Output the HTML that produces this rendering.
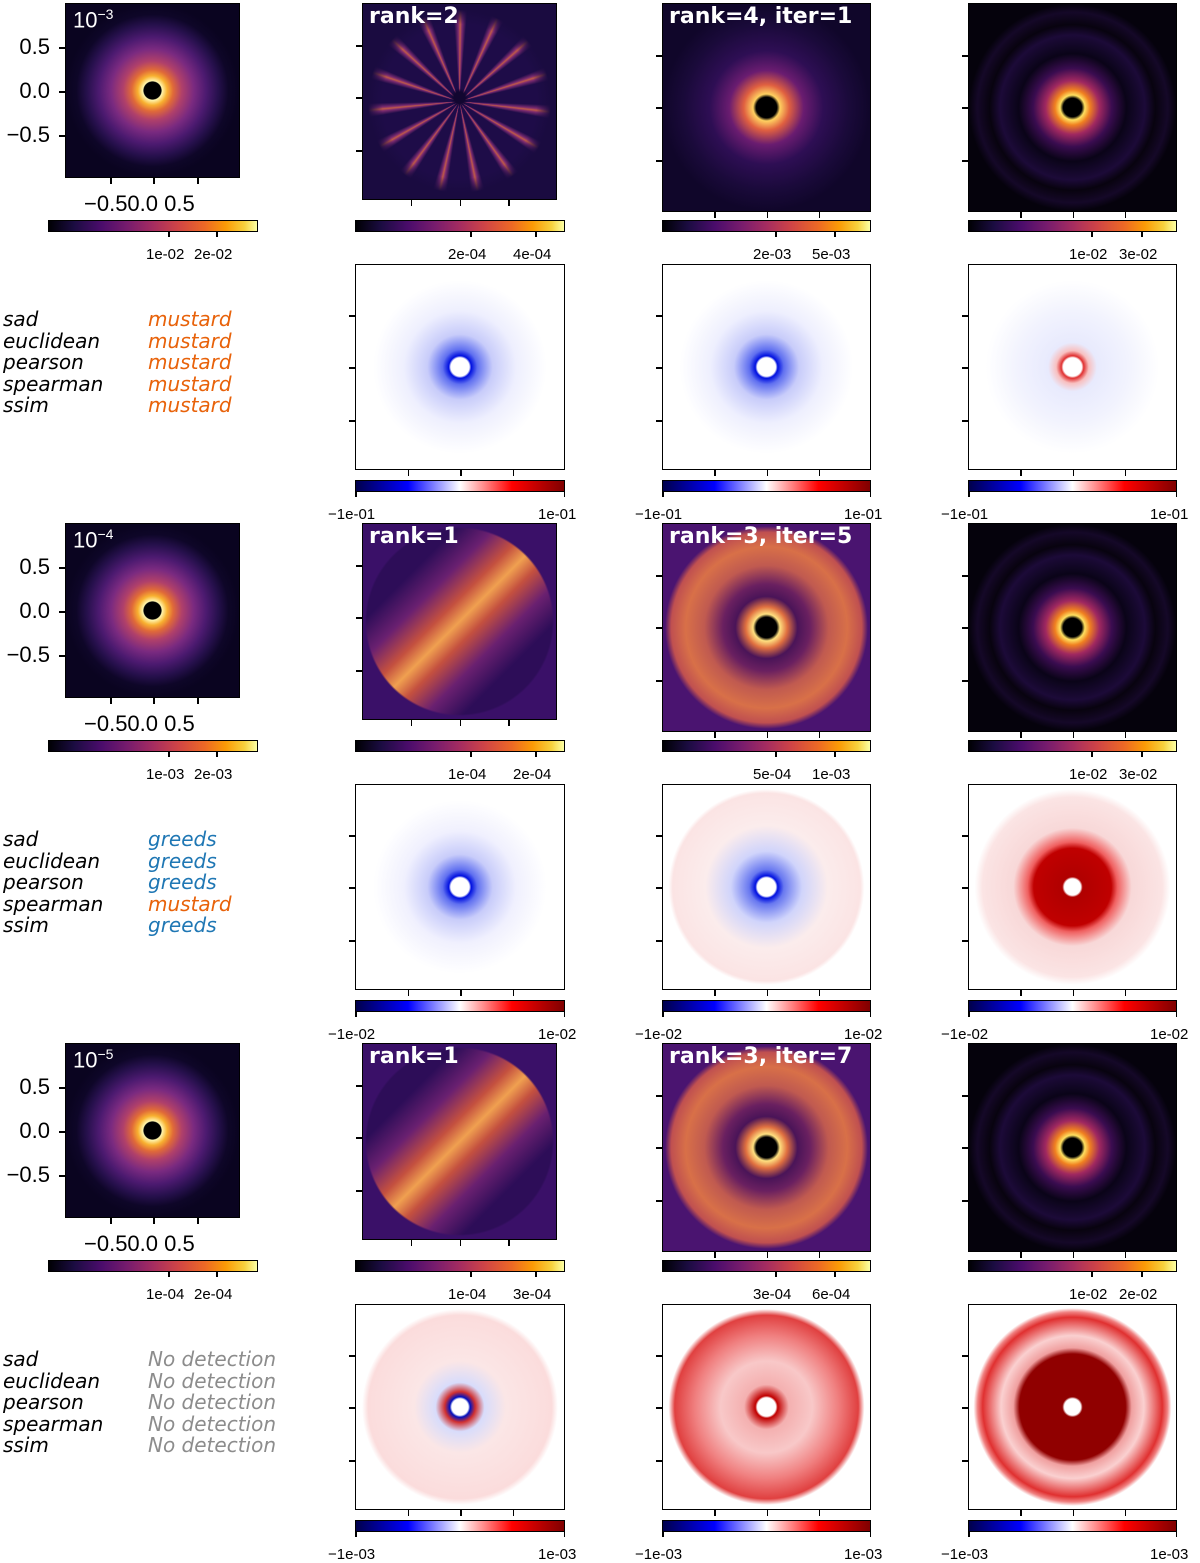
<!DOCTYPE html>
<html><head><meta charset="utf-8"><style>
body{margin:0;width:1200px;height:1562px;background:#fff;position:relative;overflow:hidden;font-family:"Liberation Sans","DejaVu Sans",sans-serif}
.a{position:absolute}
.img{position:absolute;border:1.5px solid #000;box-sizing:border-box;overflow:hidden}
.cb{position:absolute;border:1.5px solid #000;box-sizing:border-box;height:12px}
.inf{background:linear-gradient(90deg,#000004,#1b0c41 12%,#4a0c6b 25%,#781c6d 38%,#a52c60 50%,#cf4446 62%,#ed6925 75%,#fb9b06 85%,#f7d13d 94%,#fcffa4)}
.sei{background:linear-gradient(90deg,#00004c,#0000ff 25%,#fff 50%,#ff0000 75%,#800000)}
.t{position:absolute;font-size:15px;color:#000;white-space:nowrap}
.tk{position:absolute;background:#000}
.title{position:absolute;left:6px;top:0px;color:#fff;font-weight:bold;font-size:22px;font-family:"DejaVu Sans",sans-serif}
.met{position:absolute;font-style:italic;font-size:20px;font-family:"DejaVu Sans",sans-serif}
</style></head><body>
<script>
const metrics=["sad","euclidean","pearson","spearman","ssim"];
const results=[["mustard","mustard","mustard","mustard","mustard"],["greeds","greeds","greeds","mustard","greeds"],["No detection","No detection","No detection","No detection","No detection"]];
const exps=["−3","−4","−5"];
const titles2=["rank=2","rank=1","rank=1"];
const titles3=["rank=4, iter=1","rank=3, iter=5","rank=3, iter=7"];
const cbLabels1=[["1e-02","2e-02"],["1e-03","2e-03"],["1e-04","2e-04"]];
const cbLabels2=[["2e-04","4e-04"],["1e-04","2e-04"],["1e-04","3e-04"]];
const cbLabels3=[["2e-03","5e-03"],["5e-04","1e-03"],["3e-04","6e-04"]];
const cbLabels4=[["1e-02","3e-02"],["1e-02","3e-02"],["1e-02","2e-02"]];
const diffRange=["1e-01","1e-02","1e-03"];
const resColor={"mustard":"#e8620a","greeds":"#1f77b4","No detection":"#8c8c8c"};

const B=document.body;
function mk(cls,l,t,w,h,extra){const e=document.createElement('div');e.className=cls;e.style.left=l+'px';e.style.top=t+'px';if(w!=null)e.style.width=w+'px';if(h!=null)e.style.height=h+'px';if(extra)e.style.cssText+=extra;B.appendChild(e);return e;}
function txt(l,t,s,size,extra){const e=mk('t',l,t,null,null,'font-size:'+size+'px;'+(extra||''));e.textContent=s;return e;}

const disk="radial-gradient(circle closest-side at 50% 50%,#000 0 10%,#fff6b0 11%,#f8b030 17%,#e06a38 24%,#b0406a 34%,#7a2a80 48%,#4c1a70 62%,#26104c 76%,#0e0628 88%,#0a0420 100%)";
const band="linear-gradient(135deg,#2d0d58 25%,#6a2070 35%,#c4503f 44%,#f0a050 50%,#c4503f 56%,#6a2070 65%,#2d0d58 75%)";
const bg2=[
 "radial-gradient(circle closest-side at 50% 48%,#120630 0 6%,transparent 10%),radial-gradient(circle closest-side at 50% 50%,transparent 0 80%,#1a0b40 95%),repeating-conic-gradient(from 10deg at 50% 50%,#1e0c48 0 10deg,#7a2a70 13deg,#c05a48 14.5deg,#7a2a70 16deg,#1e0c48 19deg 24deg)",
 "radial-gradient(circle closest-side at 50% 50%,transparent 0 96%,#3a1068 98%),"+band,
 "radial-gradient(circle closest-side at 50% 50%,transparent 0 96%,#3a1068 98%),"+band];
const ring3="radial-gradient(circle closest-side at 50% 50%,#000 0 10%,#ffe080 13%,#e07040 20%,#4a1458 30%,#6a2060 42%,#c05a50 60%,#d87048 78%,#c05050 92%,#4a1470 98%)";
const bg3=[
 "radial-gradient(circle closest-side at 50% 50%,#000 0 10%,#ffd060 13%,#e06040 22%,#6a1c70 36%,#2e0e54 55%,#1a0a3a 80%,#10062a 100%)",ring3,ring3];
const c4="radial-gradient(circle closest-side at 50% 50%,#000 0 9%,#ffe060 12%,#f08020 17%,#a02860 26%,#3a0c50 38%,#0a0418 52%,#1c0a38 70%,#08030f 80%,#150828 92%,#05020c 100%)";
const bg4=[c4,c4,c4];
const d2=[
 "radial-gradient(circle closest-side at 50% 50%,#fff 0 9%,#0010e0 11%,#6070f0 17%,#c8ccfa 32%,#eeeffe 55%,#fff 85%)",
 "radial-gradient(circle closest-side at 50% 50%,#fff 0 9%,#0010e0 11%,#6070f0 17%,#c8ccfa 32%,#f0f0fe 55%,#fff 85%)",
 "radial-gradient(circle closest-side at 50% 50%,#fff 0 8%,#0010c0 10%,#d03030 15%,#d8dcfb 24%,#fbe6e6 45%,#fbdcdc 90%,#fff 96%)"];
const d3=[
 "radial-gradient(circle closest-side at 50% 50%,#fff 0 9%,#0010e0 11%,#6070f0 17%,#c8ccfa 32%,#eeeffe 55%,#fff 85%)",
 "radial-gradient(circle closest-side at 50% 50%,#fff 0 9%,#0010e0 11%,#6878f0 17%,#d0d4fb 35%,#fbecec 60%,#fbe4e4 92%,#fff 96%)",
 "radial-gradient(circle closest-side at 50% 50%,#fff 0 9%,#c00000 11%,#f4b0b0 22%,#f8c8c8 45%,#f08080 70%,#e04040 90%,#fff 96%)"];
const d4=[
 "radial-gradient(circle closest-side at 50% 50%,#fff 0 9%,#e03030 11%,#f8c0c0 16%,#e8eafd 24%,#f2f3fe 55%,#fff 85%)",
 "radial-gradient(circle closest-side at 50% 50%,#fff 0 8%,#b00000 10%,#c00000 38%,#f06060 44%,#f8d8d8 58%,#fbe4e4 88%,#fff 96%)",
 "radial-gradient(circle closest-side at 50% 50%,#fff 0 8%,#900000 10%,#900000 52%,#f0a0a0 58%,#fad0d0 70%,#e03030 88%,#f08080 93%,#fff 97%)"];

for(let g=0;g<3;g++){
 const o=g*520;
 let e=mk('img',65,3+o,175,175,'background:'+disk+';');
 
 
 let s=document.createElement('span');s.style.cssText='position:absolute;left:7px;top:2px;color:#fff;font-size:22px';s.innerHTML='10<sup style="font-size:14px">'+exps[g]+'</sup>';e.appendChild(s);
 [["0.5",47],["0.0",91],["−0.5",135]].forEach(([l,y])=>{mk('tk',59,y+o,6,1.5);const tt=txt(0,y+o-13,l,22,'width:50px;text-align:right');});
 [110,153,197].forEach(x=>mk('tk',x,178+o,1.5,6));
 let xl=txt(84,191+o,"−0.50.0 0.5",22);
 
 
 e=mk('cb inf',48,220+o,210,12);
 
 
 [168,216].forEach((x,i)=>{mk('tk',x,231+o,1.5,6);txt(x-22,246+o,cbLabels1[g][i],15);});
 metrics.forEach((m,i)=>{const a=mk('met',3,307+o+i*21.5);a.textContent=m;
  const b=mk('met',148,307+o+i*21.5,null,null,'color:'+resColor[results[g][i]]);b.textContent=results[g][i];});
 const cols=[[355,565,362,557,200,bg2[g],titles2[g],cbLabels2[g],[470,535],d2[g]],[662,871,662,871,212,bg3[g],titles3[g],cbLabels3[g],[775,834],d3[g]],[968,1177,968,1177,212,bg4[g],null,cbLabels4[g],[1091,1141],d4[g]]];
 cols.forEach((c,ci)=>{
  const [cl,cr,il,ir,ib,bg,ti,lab,lx,dbg]=c;
  let im=mk('img',il,3+o,ir-il,ib-3,'background:'+bg+';');
  
  
  if(ti){const h=document.createElement('div');h.className='title';h.textContent=ti;im.appendChild(h);}
  const ys=ci==0?[45,97,150]:[55,107,160];
  ys.forEach(y=>mk('tk',il-6,y+o,6,1.5));
  const w=ir-il;[0.25,0.5,0.75].forEach(f=>mk('tk',il+w*f,ib+o,1.5,6));
  let cb=mk('cb inf',cl,220+o,cr-cl,12);
  
  
  lx.forEach((x,i)=>{mk('tk',x,231+o,1.5,6);txt(x-22,246+o,lab[i],15);});
  let dm=mk('img',cl,264+o,cr-cl,206,'background:'+dbg+';');
  
  
  [315,367,420].forEach(y=>mk('tk',cl-6,y+o,6,1.5));
  const dw=cr-cl;[0.25,0.5,0.75].forEach(f=>mk('tk',cl+dw*f,470+o,1.5,6));
  let sc=mk('cb sei',cl,480+o,cr-cl,12);
  
  
  mk('tk',cl,491+o,1.5,6);mk('tk',cr-1.5,491+o,1.5,6);
  txt(cl-27,506+o,"−"+diffRange[g],15);
  txt(cr-27,506+o,diffRange[g],15);
 });
}
</script>
</body></html>
